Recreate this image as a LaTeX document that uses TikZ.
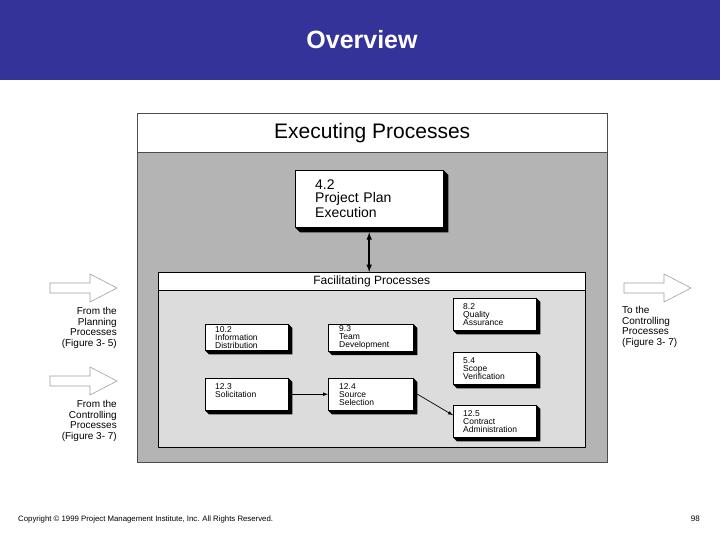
\documentclass[tikz,border=0pt]{standalone}
\usepackage{fontspec}
\setmainfont{Liberation Sans}
\definecolor{slideblue}{RGB}{51,51,153}
\definecolor{outergray}{RGB}{180,180,180}
\definecolor{innergray}{RGB}{220,220,220}
\tikzset{
  proc/.style={draw,fill=white,anchor=north west,align=left,minimum width=83,
    minimum height=32,text width=63,inner xsep=10,inner ysep=1.5,
    font=\fontsize{8.5}{8}\selectfont},
  bigproc/.style={draw,fill=white,anchor=north west,align=left,minimum width=148,
    minimum height=57,text width=108,inner xsep=20,inner ysep=0,
    font=\fontsize{14}{13}\selectfont},
  flowtext/.style={inner sep=0,font=\fontsize{10}{10.7}\selectfont},
  bigarrow/.style={draw=gray!75,fill=white,line width=0.6}
}
\begin{document}
\begin{tikzpicture}[x=1pt,y=-1pt]
      \useasboundingbox (0,0) rectangle (720,540);
      % title band
      \fill[slideblue] (0,0) rectangle (720,80);
      \node[text=white,font=\fontsize{25}{25}\selectfont\bfseries](T) at(362,40){Overview};
      % executing frame
      \fill[outergray] (137,113) rectangle (607,462);
      \node[fill=white,anchor=north west,minimum width=470,minimum height=39,inner sep=0,
        font=\fontsize{21}{21}\selectfont](EX) at(137,113){Executing Processes};
      \draw[gray!60!black] (137,113) rectangle (607,462) (137,152) -- (607,152);
      \node[bigproc](N42) at(295,170){4.2\\Project Plan\\Execution};
      % facilitating frame
      \fill[innergray] (158,272) rectangle (585,447);
      \node[fill=white,anchor=north west,minimum width=427,minimum height=18,inner sep=0,
        font=\fontsize{12}{12}\selectfont](FP) at(158,272){Facilitating Processes};
      \draw (158,272) rectangle (585,447) (158,290) -- (585,290);
      \node[proc,minimum height=26](N102) at(205,324){10.2\\Information\\Distribution};
      \node[proc,minimum height=26,minimum width=85](N93) at(328,324){9.3\\Team\\Development};
      \node[proc](N123) at(205,378){12.3\\Solicitation\\\mbox{}};
      \node[proc,minimum width=85](N124) at(328,378){12.4\\Source\\Selection};
      \node[proc](N82) at(453,298){8.2\\Quality\\Assurance};
      \node[proc](N54) at(453,352){5.4\\Scope\\Verification};
      \node[proc](N125) at(453,405){12.5\\Contract\\Administration};
      \foreach \n/\d in {N42/5, N102/4, N93/4, N123/4, N124/4, N82/4, N54/4, N125/4}{
        \fill (\n.north east) -- ++(\d,\d) -- ([shift={(\d,\d)}]\n.south east)
          -- ([shift={(\d,\d)}]\n.south west) -- (\n.south west) -- (\n.south east) -- cycle;
      }
      \draw[latex-latex,line width=1.5] ([yshift=-5pt]N42.south) -- (N42.south |- FP.north);
      \draw[-latex,line width=0.7] (N123.east) -- (N123.east -| N124.west);
      \draw[-latex,line width=0.7] ([xshift=4pt]N124.east) -- ([yshift=6pt]N125.west);
      % outside flows
      \foreach \x/\y in {50/288, 50/381, 624/288}{
        \draw[bigarrow] (\x,\y-5) -- ++(40,0) -- ++(0,-9) -- ++(27,14) -- ++(-27,14)
          -- ++(0,-9) -- ++(-40,0) -- cycle;
      }
      \node[flowtext,anchor=north east,align=right](F1) at(117,307){From the\\Planning\\Processes\\(Figure 3- 5)};
      \node[flowtext,anchor=north east,align=right](F2) at(117,400){From the\\Controlling\\Processes\\(Figure 3- 7)};
      \node[flowtext,anchor=north west,align=left](F3) at(622,306){To the\\Controlling\\Processes\\(Figure 3- 7)};
      % footer
      \node[anchor=base west,inner sep=0,font=\fontsize{7.8}{7.8}\selectfont](C) at(18,521)
        {Copyright © 1999 Project Management Institute, Inc. All Rights Reserved.};
      \node[anchor=base east,inner sep=0,font=\fontsize{8}{8}\selectfont](PG) at(700,521){98};
    \end{tikzpicture}
\end{document}
